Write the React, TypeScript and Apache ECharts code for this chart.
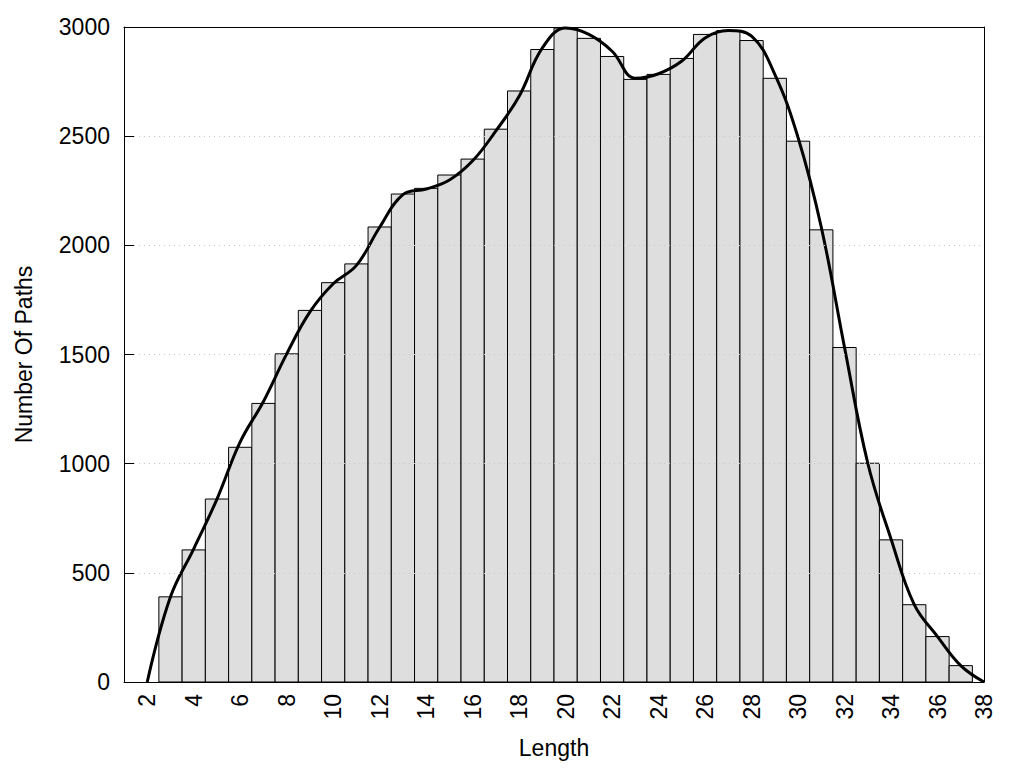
import React, { useEffect, useRef } from "react";
import * as echarts from "echarts";

const lengths = [3,4,5,6,7,8,9,10,11,12,13,14,15,16,17,18,19,20,21,22,23,24,25,26,27,28,29,30,31,32,33,34,35,36,37];
const pathCounts = [390,605,838,1075,1276,1503,1702,1829,1915,2084,2235,2261,2322,2395,2532,2707,2897,2995,2948,2865,2760,2783,2856,2966,2984,2938,2765,2477,2071,1532,1002,651,354,208,75];

const curveX = [2,3,4,5,6,7,8,9,10,11,12,13,14,15,16,17,18,19,20,21,22,23,24,25,26,27,28,29,30,31,32,33,34,35,36,37,38];
const curveY = [0,390,610,838,1100,1285,1503,1695,1824,1908,2083,2232,2258,2299,2387,2524,2683,2904,2995,2966,2889,2765,2786,2844,2950,2984,2958,2783,2494,2083,1532,1002,655,354,208,75,0];

const xTickLabels = [2,4,6,8,10,12,14,16,18,20,22,24,26,28,30,32,34,36,38];

const FONT = "Liberation Sans, Arial, sans-serif";
const FS = 23;

export default function App() {
  const ref = useRef<HTMLDivElement>(null);
  useEffect(() => {
    document.body.style.margin = "0";
    const chart = echarts.init(ref.current!, null, { renderer: "svg" });
    chart.setOption({
      animation: false,
      backgroundColor: "#fff",
      grid: { left: 124, right: 40, top: 27, bottom: 86 },
      xAxis: [
        {
          type: "value",
          min: 1,
          max: 38,
          name: "Length",
          nameLocation: "middle",
          nameGap: 54,
          nameTextStyle: { fontFamily: FONT, fontSize: FS, color: "#000" },
          axisLine: { show: true, lineStyle: { color: "#000" } },
          axisTick: { show: false },
          splitLine: { show: false },
          axisLabel: {
            customValues: xTickLabels,
            rotate: 90,
            margin: 12,
            fontFamily: FONT,
            fontSize: FS,
            color: "#000",
          },
          z: 10,
        },
        {
          type: "value",
          position: "top",
          min: 1,
          max: 38,
          axisLine: { show: true, onZero: false, lineStyle: { color: "#000" } },
          axisTick: { show: false },
          axisLabel: { show: false },
          splitLine: { show: false },
          z: 10,
        },
      ],
      yAxis: [
        {
          type: "value",
          min: 0,
          max: 3000,
          interval: 500,
          name: "Number Of Paths",
          nameLocation: "middle",
          nameGap: 89,
          nameTextStyle: { fontFamily: FONT, fontSize: FS, color: "#000" },
          axisLine: { show: true, lineStyle: { color: "#000" } },
          axisTick: { show: true, inside: true, length: 10, lineStyle: { color: "#000" } },
          splitLine: { show: true, lineStyle: { color: "#c8c8c8", type: [1, 4], width: 1 } },
          axisLabel: { margin: 14, fontFamily: FONT, fontSize: FS, color: "#000", formatter: (v: number) => String(v) },
          z: 10,
        },
        {
          type: "value",
          position: "right",
          min: 0,
          max: 3000,
          interval: 500,
          axisLine: { show: true, onZero: false, lineStyle: { color: "#000" } },
          axisTick: { show: false },
          axisLabel: { show: false },
          splitLine: { show: false },
          z: 10,
        },
      ],
      series: [
        {
          type: "custom",
          clip: true,
          data: lengths.map((l, i) => [l, pathCounts[i]]),
          encode: { x: 0, y: 1 },
          renderItem: (params: any, api: any) => {
            const x = api.value(0);
            const y = api.value(1);
            const p0 = api.coord([x - 0.5, y]);
            const p1 = api.coord([x + 0.5, 0]);
            return {
              type: "rect",
              shape: { x: p0[0], y: p0[1], width: p1[0] - p0[0], height: p1[1] - p0[1] },
              style: { fill: "#dedede", stroke: "#000", lineWidth: 1 },
            };
          },
          z: 2,
        },
        {
          type: "line",
          data: curveX.map((x, i) => [x, curveY[i]]),
          smooth: 0.4,
          symbol: "none",
          lineStyle: { color: "#000", width: 3 },
          z: 3,
        },
      ],
    });
    return () => chart.dispose();
  }, []);
  return <div ref={ref} style={{ width: 1024, height: 768 }} />;
}
